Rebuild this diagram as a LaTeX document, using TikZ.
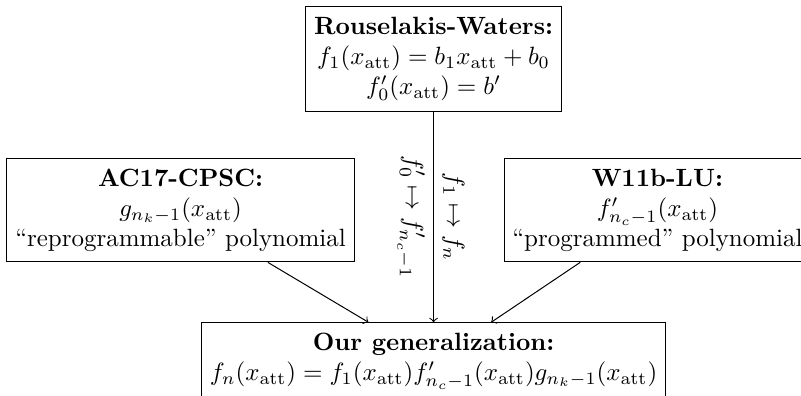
\documentclass[tikz,border=0pt]{standalone}
\usepackage{amsmath,amssymb}
\usepackage{tikz}

\begin{document}
\begin{tikzpicture}[
        box/.style={draw,align=center,inner ysep=4.1pt}
    ]
            \clip (0,0) rectangle (11.27,-5.57);                % Visible region
            \node[box] (rw) at (6.10,-0.83)                      % Top box
                {\textbf{Rouselakis-Waters:}\\
                 $f_1(x_{\mathrm{att}}) = b_1 x_{\mathrm{att}} + b_0$\\
                 $f'_0(x_{\mathrm{att}}) = b'$};
            \node[box] (ac) at (2.54,-2.96)                      % Left box
                {\textbf{AC17-CPSC:}\\
                 $g_{n_k-1}(x_{\mathrm{att}})$\\
                 ``reprogrammable'' polynomial};
            \node[box] (wl) at (9.25,-2.96)                      % Right box
                {\textbf{W11b-LU:}\\
                 $f'_{n_c-1}(x_{\mathrm{att}})$\\
                 ``programmed'' polynomial};
            \node[box] (gen) at (6.10,-5.08)                     % Bottom box
                {\textbf{Our generalization:}\\
                 $f_n(x_{\mathrm{att}}) = f_1(x_{\mathrm{att}}) f'_{n_c-1}(x_{\mathrm{att}}) g_{n_k-1}(x_{\mathrm{att}})$};
            \draw[->] (rw) -- node[midway,sloped,above]{$f_1 \mapsto f_n$}          % Label on the right
                node[midway,sloped,below]{$f'_0 \mapsto f'_{n_c-1}$} (gen);         % Label on the left
            \draw[->] (ac) -- (gen);
            \draw[->] (wl) -- (gen);
        \end{tikzpicture}
\end{document}
